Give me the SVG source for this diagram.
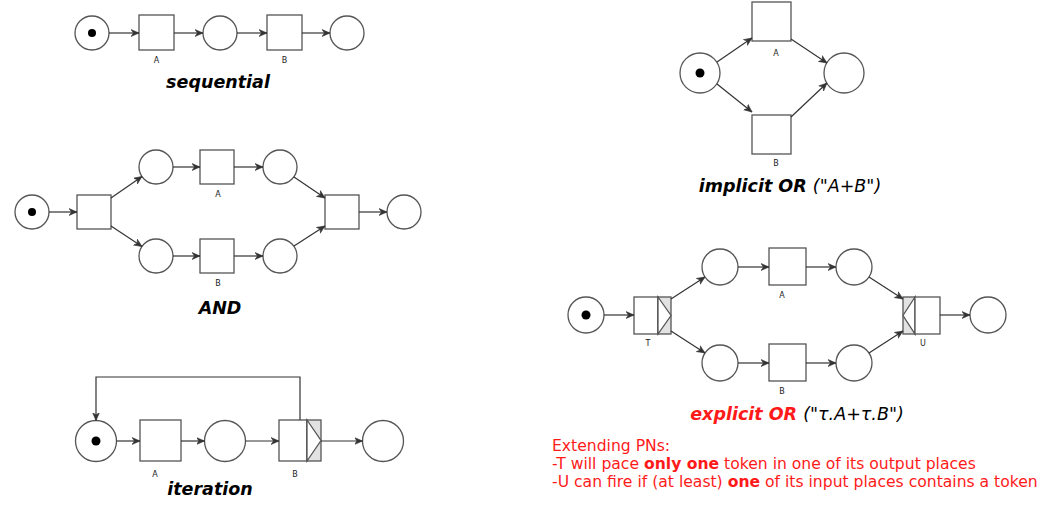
<svg xmlns="http://www.w3.org/2000/svg" width="1050" height="510" viewBox="0 0 1050 510">
<style>
.pl{fill:#fff;stroke:#555;stroke-width:1.3}
.tr{fill:#fff;stroke:#555;stroke-width:1.3}
.gr{fill:#e2e2e2;stroke:#555;stroke-width:1.3}
.tk{fill:#000}
.arc{fill:none;stroke:#333;stroke-width:1.2;marker-end:url(#ah)}
.lbl{font-family:"DejaVu Sans",sans-serif;font-size:8px;fill:#222;text-anchor:middle}
.ttl{font-family:"DejaVu Sans",sans-serif;font-size:17.5px;font-weight:bold;font-style:italic;fill:#000;text-anchor:middle}
.note{font-family:"DejaVu Sans",sans-serif;font-size:15.6px;fill:#ff1a1a}
</style>
<defs>
<marker id="ah" markerUnits="userSpaceOnUse" markerWidth="10" markerHeight="10" refX="8" refY="4" orient="auto">
<path d="M0,0.5 L8,4 L0,7.5 L2.5,4 Z" fill="#333" stroke="#333" stroke-width="0.6"/>
</marker>
</defs>
<rect width="1050" height="510" fill="#fff"/>

<!-- sequential -->
<g id="seq-p1"><circle class="pl" cx="92" cy="33" r="17"/><circle class="tk" cx="92" cy="33" r="4"/></g>
<g id="seq-tA"><rect class="tr" x="139" y="15" width="35" height="35"/><text class="lbl" x="156.5" y="63">A</text></g>
<g id="seq-p2"><circle class="pl" cx="220" cy="33" r="17"/></g>
<g id="seq-tB"><rect class="tr" x="267" y="15" width="35" height="35"/><text class="lbl" x="284.5" y="63">B</text></g>
<g id="seq-p3"><circle class="pl" cx="347" cy="33" r="17"/></g>
<text class="ttl" x="218" y="88">sequential</text>

<!-- AND -->
<g id="and-ps"><circle class="pl" cx="32" cy="212" r="17"/><circle class="tk" cx="32" cy="212" r="4"/></g>
<g id="and-t1"><rect class="tr" x="77" y="195" width="34" height="34"/></g>
<g id="and-pu1"><circle class="pl" cx="156" cy="167" r="17"/></g>
<g id="and-pl1"><circle class="pl" cx="156" cy="256" r="17"/></g>
<g id="and-tA"><rect class="tr" x="200" y="150" width="34" height="34"/><text class="lbl" x="218" y="197">A</text></g>
<g id="and-tB"><rect class="tr" x="200" y="239" width="34" height="34"/><text class="lbl" x="218" y="286">B</text></g>
<g id="and-pu2"><circle class="pl" cx="280" cy="167" r="17"/></g>
<g id="and-pl2"><circle class="pl" cx="280" cy="256" r="17"/></g>
<g id="and-tj"><rect class="tr" x="325" y="195" width="34" height="34"/></g>
<g id="and-pe"><circle class="pl" cx="404" cy="212" r="17"/></g>
<text class="ttl" x="220" y="314">AND</text>

<!-- iteration -->
<g id="it-ps"><circle class="pl" cx="96" cy="441" r="20.5"/><circle class="tk" cx="96" cy="441" r="4.5"/></g>
<g id="it-tA"><rect class="tr" x="140" y="420" width="41" height="41"/><text class="lbl" x="155" y="477">A</text></g>
<g id="it-p2"><circle class="pl" cx="225" cy="441" r="20.5"/></g>
<g id="it-tB"><rect class="tr" x="279" y="420" width="28" height="41"/><rect class="gr" x="307" y="420" width="14" height="41"/><path d="M307,420 L321,440.5 L307,461 Z" fill="#fff" stroke="#555" stroke-width="1.3"/><text class="lbl" x="295" y="477">B</text></g>
<g id="it-pe"><circle class="pl" cx="383" cy="441" r="20.5"/></g>
<text class="ttl" x="210" y="495">iteration</text>

<!-- implicit OR -->
<g id="io-ps"><circle class="pl" cx="700" cy="73" r="20"/><circle class="tk" cx="700" cy="73" r="4.5"/></g>
<g id="io-tA"><rect class="tr" x="752" y="2" width="39" height="39"/><text class="lbl" x="776" y="56">A</text></g>
<g id="io-tB"><rect class="tr" x="752" y="115" width="39" height="39"/><text class="lbl" x="776" y="166">B</text></g>
<g id="io-pe"><circle class="pl" cx="844" cy="73" r="20"/></g>
<text class="ttl" x="790" y="192">implicit OR <tspan font-weight="normal">("A+B")</tspan></text>

<!-- explicit OR -->
<g id="eo-ps"><circle class="pl" cx="586" cy="315" r="18"/><circle class="tk" cx="586" cy="315" r="4.5"/></g>
<g id="eo-T"><rect class="tr" x="634" y="297" width="24" height="37"/><rect class="gr" x="658" y="297" width="13" height="37"/><path d="M658,297 L671,315.5 L658,334 Z" fill="#fff" stroke="#555" stroke-width="1.3"/><text class="lbl" x="648" y="346">T</text></g>
<g id="eo-pu1"><circle class="pl" cx="720" cy="267" r="18"/></g>
<g id="eo-pl1"><circle class="pl" cx="720" cy="363" r="18"/></g>
<g id="eo-tA"><rect class="tr" x="769" y="248" width="37" height="37"/><text class="lbl" x="782" y="298">A</text></g>
<g id="eo-tB"><rect class="tr" x="769" y="344" width="37" height="37"/><text class="lbl" x="782" y="394">B</text></g>
<g id="eo-pu2"><circle class="pl" cx="854" cy="267" r="18"/></g>
<g id="eo-pl2"><circle class="pl" cx="854" cy="363" r="18"/></g>
<g id="eo-U"><rect class="gr" x="903" y="297" width="12" height="37"/><path d="M915,297 L903,315.5 L915,334 Z" fill="#fff" stroke="#555" stroke-width="1.3"/><rect class="tr" x="915" y="297" width="25" height="37"/><text class="lbl" x="923" y="346">U</text></g>
<g id="eo-pe"><circle class="pl" cx="988" cy="315" r="18"/></g>
<text class="ttl" x="797" y="420"><tspan fill="#ff1a1a">explicit OR</tspan> <tspan font-weight="normal" fill="#000">("τ.A+τ.B")</tspan></text>

<!-- note -->
<g id="note">
<text class="note" x="552" y="451">Extending PNs:</text>
<text class="note" x="552" y="469">-T will pace <tspan font-weight="bold">only one</tspan> token in one of its output places</text>
<text class="note" x="552" y="487">-U can fire if (at least) <tspan font-weight="bold">one</tspan> of its input places contains a token</text>
</g>

<g id="connectors">
<!-- sequential -->
<line class="arc" x1="109" y1="33" x2="139" y2="33"/>
<line class="arc" x1="174" y1="33" x2="203" y2="33"/>
<line class="arc" x1="237" y1="33" x2="267" y2="33"/>
<line class="arc" x1="302" y1="33" x2="330" y2="33"/>
<!-- AND -->
<line class="arc" x1="49" y1="212" x2="77" y2="212"/>
<line class="arc" x1="111" y1="198" x2="142" y2="176.5"/>
<line class="arc" x1="111" y1="226" x2="142" y2="246.5"/>
<line class="arc" x1="173" y1="167" x2="200" y2="167"/>
<line class="arc" x1="234" y1="167" x2="263" y2="167"/>
<line class="arc" x1="173" y1="256" x2="200" y2="256"/>
<line class="arc" x1="234" y1="256" x2="263" y2="256"/>
<line class="arc" x1="294" y1="177" x2="325" y2="198"/>
<line class="arc" x1="294" y1="246" x2="325" y2="226"/>
<line class="arc" x1="359" y1="212" x2="387" y2="212"/>
<!-- iteration -->
<line class="arc" x1="116.5" y1="441" x2="140" y2="441"/>
<line class="arc" x1="181" y1="441" x2="204.5" y2="441"/>
<line class="arc" x1="245.5" y1="441" x2="279" y2="441"/>
<line class="arc" x1="321" y1="441" x2="362.5" y2="441"/>
<path class="arc" d="M300,420 V377 H96 V420.5"/>
<!-- implicit OR -->
<line class="arc" x1="717" y1="62" x2="752" y2="38"/>
<line class="arc" x1="717" y1="84" x2="752" y2="112"/>
<line class="arc" x1="791" y1="39" x2="827" y2="63"/>
<line class="arc" x1="791" y1="117" x2="827" y2="83"/>
<!-- explicit OR -->
<line class="arc" x1="604" y1="315" x2="634" y2="315"/>
<line class="arc" x1="671" y1="299" x2="705" y2="277"/>
<line class="arc" x1="671" y1="331" x2="705" y2="353"/>
<line class="arc" x1="738" y1="267" x2="769" y2="267"/>
<line class="arc" x1="806" y1="267" x2="836" y2="267"/>
<line class="arc" x1="738" y1="363" x2="769" y2="363"/>
<line class="arc" x1="806" y1="363" x2="836" y2="363"/>
<line class="arc" x1="869" y1="277" x2="903" y2="299"/>
<line class="arc" x1="869" y1="353" x2="903" y2="331"/>
<line class="arc" x1="940" y1="315" x2="970" y2="315"/>
</g>
</svg>
